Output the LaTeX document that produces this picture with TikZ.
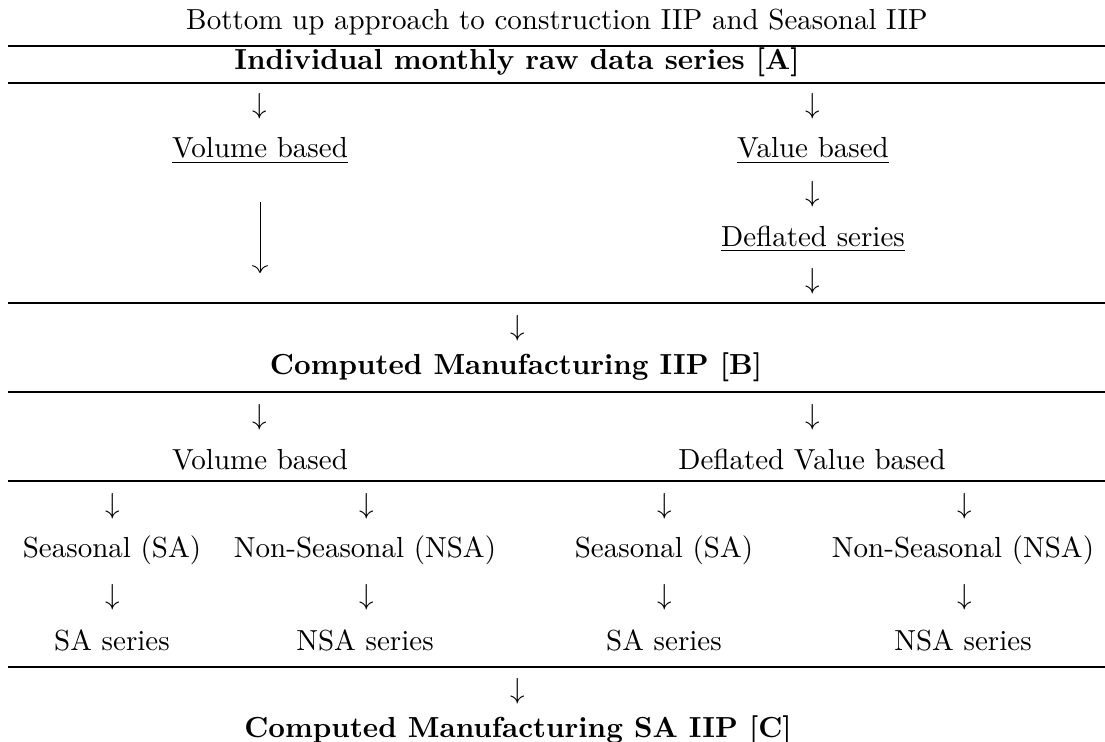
\documentclass[tikz,border=0pt]{standalone}
\usetikzlibrary{arrows.meta}
\begin{document}
\begin{tikzpicture}[x=0.3447pt,y=-0.3447pt,
  txt/.style={inner sep=0pt,anchor=center},
  arr/.style={inner sep=0pt,anchor=center},
  rulestyle/.style={line width=0.4pt},
  longarrow/.style={line width=0.32pt,-{Computer Modern Rightarrow[length=2.7pt,width=5.4pt,line width=0.32pt]}}]
\useasboundingbox (0,0) rectangle (1105,742);
% title and rules
\node[txt] (title) at (557,22) {Bottom up approach to construction IIP and Seasonal IIP};
\draw[rulestyle] (8,46) coordinate (r1a) -- (1105,46) coordinate (r1b);
\node[txt] (A) at (517,62) {\textbf{Individual monthly raw data series [A]}};
\draw[rulestyle] (8,83) coordinate (r2a) -- (1105,83) coordinate (r2b);
% first block
\node[arr] (a1) at (260,106) {$\downarrow$};
\node[arr] (a2) at (813,106) {$\downarrow$};
\node[txt] (vol1) at (260,151) {\underline{Volume based}};
\node[txt] (val1) at (813,151) {\underline{Value based}};
\node[arr] (a3) at (813,194) {$\downarrow$};
\coordinate (la1) at (260,202);
\coordinate (la2) at (260,273);
\draw[longarrow] (la1) -- (la2);
\node[txt] (defl) at (813,239) {\underline{Deflated series}};
\node[arr] (a4) at (813,281) {$\downarrow$};
\draw[rulestyle] (8,303) coordinate (r3a) -- (1105,303) coordinate (r3b);
\node[arr] (a5) at (518,328) {$\downarrow$};
\node[txt] (B) at (516,367) {\textbf{Computed Manufacturing IIP [B]}};
\draw[rulestyle] (8,392) coordinate (r4a) -- (1105,392) coordinate (r4b);
% second block
\node[arr] (a6) at (260,417) {$\downarrow$};
\node[arr] (a7) at (813,417) {$\downarrow$};
\node[txt] (vol2) at (260,460) {Volume based};
\node[txt] (dval) at (812,460) {Deflated Value based};
\draw[rulestyle] (8,481) coordinate (r5a) -- (1105,481) coordinate (r5b);
% third block
\node[arr] (b1) at (113,506) {$\downarrow$};
\node[arr] (b2) at (367,506) {$\downarrow$};
\node[arr] (b3) at (665,506) {$\downarrow$};
\node[arr] (b4) at (965,506) {$\downarrow$};
\node[txt] (s1) at (112,550) {Seasonal (SA)};
\node[txt] (s2) at (365,550) {Non-Seasonal (NSA)};
\node[txt] (s3) at (664,550) {Seasonal (SA)};
\node[txt] (s4) at (963,550) {Non-Seasonal (NSA)};
\node[arr] (c1) at (113,597) {$\downarrow$};
\node[arr] (c2) at (367,597) {$\downarrow$};
\node[arr] (c3) at (665,597) {$\downarrow$};
\node[arr] (c4) at (965,597) {$\downarrow$};
\node[txt] (t1) at (112,640) {SA series};
\node[txt] (t2) at (365,640) {NSA series};
\node[txt] (t3) at (664,640) {SA series};
\node[txt] (t4) at (963,640) {NSA series};
\draw[rulestyle] (8,667) coordinate (r6a) -- (1105,667) coordinate (r6b);
\node[arr] (a8) at (518,691) {$\downarrow$};
\node[txt] (C) at (518,730) {\textbf{Computed Manufacturing SA IIP [C]}};
\end{tikzpicture}
\end{document}
